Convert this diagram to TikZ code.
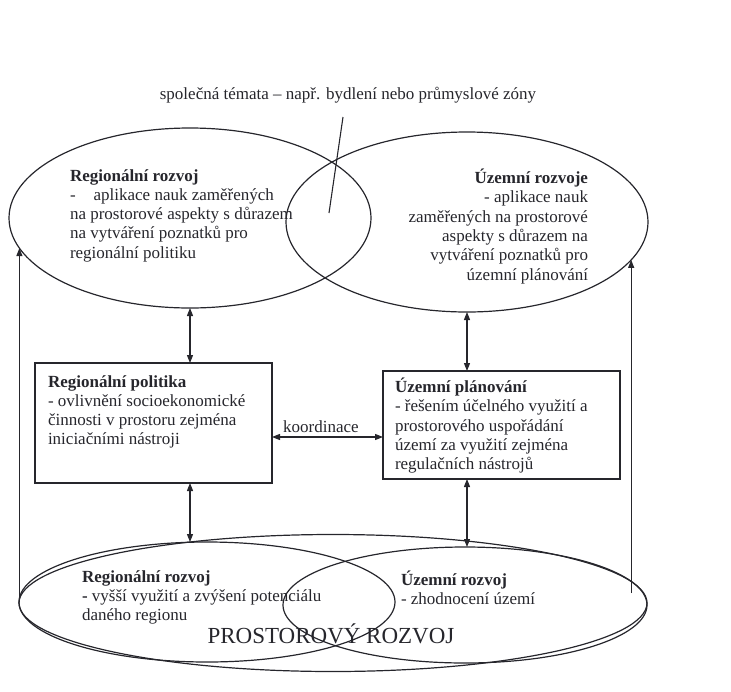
\documentclass[tikz,border=0pt]{standalone}
\usepackage{fontspec}
\setmainfont{Liberation Serif}
\usetikzlibrary{shapes.geometric,arrows.meta}
\definecolor{ink}{RGB}{38,38,44}
\begin{document}
\begin{tikzpicture}[x=1pt,y=-1pt,
  every node/.style={inner sep=0pt, outer sep=0pt, text=ink},
  oval/.style={ellipse, draw=ink, line width=1.2pt},
  panel/.style={draw=ink, line width=1.3pt, anchor=north west},
  link/.style={draw=ink, line width=1.1pt},
  tip/.style={-{Triangle[length=8pt,width=6pt]}},
  both/.style={{Triangle[length=8pt,width=6pt]}-{Triangle[length=8pt,width=6pt]}},
  body/.style={font=\fontsize{17}{19.3}\selectfont},
  ]
\useasboundingbox (0,0) rectangle (731,691);

% upper pair of overlapping fields
\node[oval, minimum width=362pt, minimum height=180pt] (LE) at (190,218) {};
\node[oval, minimum width=362pt, minimum height=180pt] (RE) at (467,222) {};

% boxes in the middle
\node[panel, minimum width=237pt, minimum height=120pt] (LB) at (35,363) {};
\node[panel, minimum width=237pt, minimum height=108pt] (RB) at (383,371) {};

% lower fields and the enclosing one
\node[oval, minimum width=376pt, minimum height=120pt] (BL) at (207,602) {};
\node[oval, minimum width=364pt, minimum height=116pt] (BR) at (465,605) {};
\node[oval, minimum width=628pt, minimum height=137pt] (PR) at (333,603) {};

% texts
\node[body, anchor=base] (common) at (348,99)
  {společná témata – např. bydlení nebo průmyslové zóny};
\coordinate (slashTop) at (343,117);
\coordinate (slashBot) at (329,213);
\draw[link] (slashTop) -- (slashBot);

\node[body, align=left, anchor=north west] (leT) at (70,167)
  {\rule{0pt}{14pt}\textbf{Regionální rozvoj}\\
   -\hspace{18pt}aplikace nauk zaměřených\\
   na prostorové aspekty s důrazem\\
   na vytváření poznatků pro\\
   regionální politiku};

\node[body, align=right, anchor=north east] (reT) at (588,169)
  {\rule{0pt}{14pt}\textbf{Územní rozvoje}\\
   - aplikace nauk\\
   zaměřených na prostorové\\
   aspekty s důrazem na\\
   vytváření poznatků pro\\
   územní plánování};

\node[body, align=left, anchor=north west] (lbT) at (48,373)
  {\rule{0pt}{14pt}\textbf{Regionální politika}\\
   - ovlivnění socioekonomické\\
   činnosti v prostoru zejména\\
   iniciačními nástroji};

\node[body, align=left, anchor=north west] (rbT) at (395,378)
  {\rule{0pt}{14pt}\textbf{Územní plánování}\\
   - řešením účelného využití a\\
   prostorového uspořádání\\
   území za využití zejména\\
   regulačních nástrojů};

\node[body, align=left, anchor=north west] (blT) at (82,568)
  {\rule{0pt}{14pt}\textbf{Regionální rozvoj}\\
   \textbf{-} vyšší využití a zvýšení potenciálu\\
   daného regionu};

\node[body, align=left, anchor=north west] (brT) at (401,571)
  {\rule{0pt}{14pt}\textbf{Územní rozvoj}\\
   - zhodnocení území};

\node[font=\fontsize{23}{26}\selectfont, anchor=base] (prT) at (331,643)
  {PROSTOROVÝ ROZVOJ};

\node[body, anchor=base] (koord) at (321,432) {koordinace};

% connectors
\draw[link,both] (LE.south) -- (LE.south |- LB.north);
\draw[link,both] (RE.south) -- (RE.south |- RB.north);
\draw[link,both] (LE.south |- LB.south) -- (LE.south |- BL.north);
\draw[link,both] (RE.south |- RB.south) -- (RE.south |- BR.north);
\draw[link,both] ([yshift=-14pt]LB.east) -- ([yshift=-14pt]LB.east -| RB.west);

\draw[link,tip] (LE.190.7 |- BL.west) -- (LE.190.7);
\coordinate (rEnd) at (632,593);
\draw[link,tip] (RE.347.4 |- rEnd) -- (RE.347.4);
\end{tikzpicture}
\end{document}
